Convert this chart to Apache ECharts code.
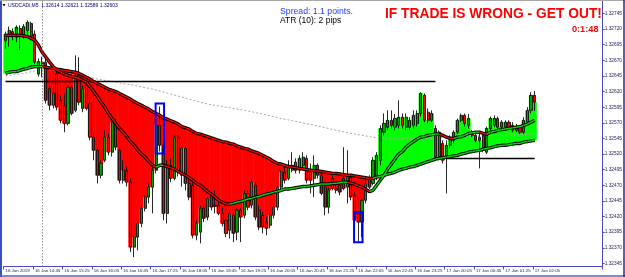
<!DOCTYPE html>
<html><head><meta charset="utf-8">
<script src="https://cdn.jsdelivr.net/npm/echarts@6/dist/echarts.min.js"></script>
<style>html,body{margin:0;padding:0;background:#fff}#c{width:625px;height:277px}</style>
</head><body><div id="c"></div>
<script>
// ---- tick labels ----
const xTickLabels = ["16 Jan 2019","16 Jan 14:45","16 Jan 15:25","16 Jan 16:05","16 Jan 16:45","16 Jan 17:25","16 Jan 18:05","16 Jan 18:45","16 Jan 19:25","16 Jan 20:05","16 Jan 20:45","16 Jan 21:25","16 Jan 22:05","16 Jan 22:45","16 Jan 23:25","17 Jan 00:05","17 Jan 00:45","17 Jan 01:25","17 Jan 02:05"];
const yTickValues = [1.32345,1.32370,1.32395,1.32420,1.32445,1.32470,1.32495,1.32520,1.32545,1.32570,1.32595,1.32620,1.32645,1.32670,1.32695,1.32720,1.32745];

// ---- candles (USDCAD M5) ----
const openP = [1.32702,1.32708,1.32716,1.32707,1.32721,1.32710,1.32718,1.32729,1.32712,1.32648,
1.32667,1.32667,1.32625,1.32598,1.32649,1.32606,1.32598,1.32569,1.32627,1.32590,
1.32646,1.32593,1.32630,1.32601,1.32547,1.32526,1.32486,1.32510,1.32547,1.32523,
1.32571,1.32526,1.32478,1.32494,1.32475,1.32371,1.32387,1.32409,1.32433,1.32451,
1.32467,1.32494,1.32566,1.32534,1.32425,1.32502,1.32481,1.32547,1.32486,1.32529,
1.32473,1.32470,1.32390,1.32395,1.32433,1.32419,1.32454,1.32438,1.32438,1.32425,
1.32414,1.32398,1.32422,1.32395,1.32430,1.32422,1.32457,1.32438,1.32470,1.32430,
1.32422,1.32411,1.32406,1.32422,1.32435,1.32467,1.32491,1.32481,1.32494,1.32507,
1.32494,1.32502,1.32513,1.32494,1.32481,1.32502,1.32486,1.32467,1.32435,1.32481,
1.32465,1.32470,1.32481,1.32467,1.32483,1.32454,1.32425,1.32411,1.32446,1.32481,
1.32473,1.32483,1.32510,1.32555,1.32563,1.32574,1.32563,1.32566,1.32579,1.32563,
1.32563,1.32566,1.32569,1.32585,1.32614,1.32587,1.32574,1.32561,1.32515,1.32537,
1.32515,1.32534,1.32542,1.32555,1.32574,1.32582,1.32566,1.32555,1.32550,1.32547,
1.32550,1.32523,1.32561,1.32566,1.32577,1.32563,1.32563,1.32571,1.32558,1.32558,
1.32563,1.32555,1.32571,1.32590,1.32614];
const closeP = [1.32712,1.32718,1.32708,1.32723,1.32710,1.32724,1.32731,1.32708,1.32667,1.32668,
1.32664,1.32606,1.32598,1.32617,1.32595,1.32574,1.32569,1.32627,1.32585,1.32646,
1.32603,1.32625,1.32593,1.32547,1.32526,1.32486,1.32505,1.32547,1.32523,1.32571,
1.32531,1.32478,1.32494,1.32475,1.32371,1.32387,1.32409,1.32433,1.32451,1.32467,
1.32494,1.32566,1.32534,1.32425,1.32502,1.32481,1.32547,1.32491,1.32529,1.32473,
1.32451,1.32390,1.32409,1.32433,1.32417,1.32449,1.32435,1.32436,1.32425,1.32409,
1.32393,1.32425,1.32393,1.32430,1.32419,1.32457,1.32435,1.32475,1.32419,1.32403,
1.32403,1.32401,1.32422,1.32435,1.32467,1.32491,1.32478,1.32502,1.32502,1.32494,
1.32513,1.32515,1.32478,1.32478,1.32502,1.32486,1.32457,1.32435,1.32462,1.32465,
1.32462,1.32459,1.32465,1.32486,1.32451,1.32414,1.32411,1.32446,1.32473,1.32467,
1.32510,1.32518,1.32561,1.32569,1.32574,1.32566,1.32577,1.32579,1.32566,1.32579,
1.32574,1.32582,1.32585,1.32617,1.32574,1.32574,1.32585,1.32515,1.32555,1.32510,
1.32534,1.32547,1.32555,1.32574,1.32582,1.32569,1.32577,1.32550,1.32542,1.32542,
1.32526,1.32561,1.32577,1.32577,1.32563,1.32571,1.32571,1.32563,1.32566,1.32563,
1.32555,1.32574,1.32590,1.32614,1.32603];
const highP = [1.32716,1.32724,1.32721,1.32726,1.32726,1.32728,1.32734,1.32732,1.32718,1.32673,
1.32676,1.32673,1.32630,1.32625,1.32654,1.32614,1.32617,1.32630,1.32630,1.32678,
1.32675,1.32630,1.32635,1.32606,1.32553,1.32531,1.32510,1.32558,1.32553,1.32574,
1.32577,1.32531,1.32510,1.32500,1.32481,1.32390,1.32414,1.32438,1.32454,1.32473,
1.32502,1.32577,1.32596,1.32542,1.32510,1.32513,1.32550,1.32550,1.32534,1.32534,
1.32481,1.32475,1.32414,1.32438,1.32441,1.32452,1.32459,1.32462,1.32446,1.32435,
1.32419,1.32430,1.32427,1.32433,1.32433,1.32462,1.32462,1.32481,1.32475,1.32438,
1.32427,1.32420,1.32427,1.32441,1.32470,1.32494,1.32502,1.32510,1.32523,1.32513,
1.32518,1.32523,1.32518,1.32505,1.32518,1.32505,1.32491,1.32470,1.32467,1.32486,
1.32470,1.32475,1.32531,1.32526,1.32486,1.32459,1.32428,1.32449,1.32478,1.32486,
1.32515,1.32523,1.32566,1.32585,1.32590,1.32590,1.32584,1.32606,1.32585,1.32585,
1.32579,1.32590,1.32590,1.32619,1.32617,1.32593,1.32590,1.32566,1.32558,1.32542,
1.32542,1.32550,1.32558,1.32577,1.32585,1.32585,1.32584,1.32558,1.32553,1.32555,
1.32553,1.32564,1.32580,1.32582,1.32580,1.32574,1.32574,1.32574,1.32571,1.32568,
1.32566,1.32579,1.32595,1.32619,1.32621];
const lowP = [1.32689,1.32692,1.32702,1.32699,1.32686,1.32705,1.32708,1.32702,1.32664,1.32644,
1.32643,1.32601,1.32590,1.32593,1.32590,1.32569,1.32555,1.32566,1.32582,1.32587,
1.32598,1.32587,1.32590,1.32542,1.32510,1.32473,1.32481,1.32507,1.32518,1.32516,
1.32526,1.32473,1.32473,1.32468,1.32363,1.32355,1.32366,1.32403,1.32428,1.32441,
1.32425,1.32489,1.32524,1.32414,1.32409,1.32475,1.32478,1.32484,1.32468,1.32462,
1.32446,1.32385,1.32382,1.32377,1.32411,1.32414,1.32430,1.32425,1.32422,1.32404,
1.32387,1.32385,1.32379,1.32382,1.32379,1.32417,1.32430,1.32433,1.32414,1.32398,
1.32393,1.32390,1.32401,1.32417,1.32430,1.32462,1.32473,1.32478,1.32491,1.32489,
1.32489,1.32497,1.32473,1.32457,1.32451,1.32481,1.32454,1.32422,1.32425,1.32462,
1.32457,1.32454,1.32462,1.32441,1.32446,1.32409,1.32380,1.32387,1.32441,1.32464,
1.32470,1.32478,1.32502,1.32550,1.32558,1.32561,1.32558,1.32561,1.32561,1.32558,
1.32558,1.32561,1.32564,1.32580,1.32571,1.32569,1.32571,1.32510,1.32510,1.32505,
1.32457,1.32529,1.32537,1.32552,1.32571,1.32564,1.32561,1.32547,1.32539,1.32497,
1.32523,1.32520,1.32558,1.32563,1.32560,1.32560,1.32561,1.32560,1.32555,1.32555,
1.32552,1.32552,1.32568,1.32585,1.32589];

// ---- moving averages ----
const slowMA = [1.32649,1.32651,1.32652,1.32652,1.32654,1.32656,1.32657,1.32659,1.32660,1.32660,
1.32660,1.32659,1.32658,1.32657,1.32656,1.32655,1.32654,1.32653,1.32652,1.32651,
1.32649,1.32646,1.32643,1.32640,1.32636,1.32633,1.32630,1.32627,1.32624,1.32622,
1.32620,1.32617,1.32614,1.32611,1.32608,1.32604,1.32601,1.32598,1.32595,1.32592,
1.32588,1.32585,1.32582,1.32578,1.32576,1.32573,1.32571,1.32568,1.32564,1.32562,
1.32560,1.32556,1.32553,1.32552,1.32550,1.32548,1.32546,1.32544,1.32542,1.32540,
1.32539,1.32537,1.32536,1.32533,1.32531,1.32529,1.32528,1.32525,1.32523,1.32521,
1.32518,1.32515,1.32512,1.32508,1.32505,1.32504,1.32502,1.32500,1.32499,1.32498,
1.32497,1.32496,1.32495,1.32494,1.32493,1.32493,1.32492,1.32491,1.32490,1.32489,
1.32489,1.32488,1.32487,1.32486,1.32486,1.32485,1.32484,1.32483,1.32482,1.32481,
1.32481,1.32483,1.32484,1.32486,1.32488,1.32489,1.32491,1.32494,1.32496,1.32497,
1.32499,1.32500,1.32502,1.32504,1.32506,1.32508,1.32510,1.32512,1.32513,1.32514,
1.32515,1.32516,1.32517,1.32518,1.32520,1.32521,1.32523,1.32524,1.32525,1.32526,
1.32528,1.32529,1.32530,1.32532,1.32533,1.32534,1.32534,1.32535,1.32536,1.32537,
1.32537,1.32539,1.32540,1.32541,1.32542];
const fastMA = [1.32710,1.32710,1.32710,1.32710,1.32710,1.32709,1.32708,1.32705,1.32702,1.32694,
1.32683,1.32675,1.32667,1.32660,1.32654,1.32651,1.32648,1.32646,1.32644,1.32643,
1.32641,1.32638,1.32635,1.32628,1.32620,1.32612,1.32603,1.32595,1.32585,1.32577,
1.32569,1.32561,1.32555,1.32548,1.32540,1.32534,1.32526,1.32520,1.32515,1.32508,
1.32502,1.32499,1.32502,1.32502,1.32500,1.32498,1.32496,1.32492,1.32489,1.32486,
1.32482,1.32478,1.32473,1.32470,1.32465,1.32460,1.32456,1.32451,1.32446,1.32443,
1.32440,1.32440,1.32441,1.32443,1.32444,1.32446,1.32448,1.32449,1.32451,1.32452,
1.32454,1.32456,1.32457,1.32459,1.32460,1.32462,1.32464,1.32464,1.32465,1.32466,
1.32467,1.32468,1.32468,1.32469,1.32470,1.32471,1.32472,1.32472,1.32472,1.32473,
1.32473,1.32474,1.32475,1.32475,1.32473,1.32472,1.32469,1.32467,1.32464,1.32460,
1.32462,1.32470,1.32478,1.32486,1.32496,1.32504,1.32512,1.32520,1.32524,1.32531,
1.32536,1.32540,1.32544,1.32547,1.32548,1.32550,1.32551,1.32552,1.32552,1.32550,
1.32547,1.32545,1.32545,1.32547,1.32548,1.32550,1.32553,1.32554,1.32555,1.32555,
1.32553,1.32552,1.32555,1.32556,1.32558,1.32559,1.32560,1.32561,1.32562,1.32563,
1.32564,1.32566,1.32568,1.32571,1.32574];
// long moving average, read at every 5th bar: [barIndex, price]
const longMA = [[0,1.32645],[5,1.32649],[10,1.32656],[15,1.32653],[20,1.32646],[25,1.32640],[30,1.32635],[35,1.32630],[40,1.32624],[45,1.32616],[50,1.32608],[55,1.32600],[60,1.32595],[65,1.32590],[70,1.32584],[75,1.32577],[80,1.32571],[85,1.32565],[90,1.32558],[95,1.32552],[100,1.32547],[105,1.32544],[110,1.32545],[115,1.32545],[120,1.32547],[125,1.32548],[130,1.32549],[135,1.32550],[140,1.32551],[144,1.32552]];

// ---- objects on the chart ----
const hLines = [[0,117,1.32637],[120,144,1.32514]];   // [fromBar, toBar, price]
const vLineBar = 10;
const boxes = [[42,1.32601,1.32521],[96,1.32427,1.32379]]; // [bar, top, bottom]

// ---- categories (M5 bars from 16 Jan 14:05, with empty shift area) ----
const N_CAT = 163;
const categories = [];
for (let i = 0; i < N_CAT; i++) {
  const m = 14*60 + 5 + 5*i;
  const day = m >= 1440 ? 17 : 16;
  const mm = m % 1440;
  const h = String(Math.floor(mm/60)).padStart(2,'0');
  const mi = String(mm%60).padStart(2,'0');
  categories.push(day + ' Jan ' + h + ':' + mi);
}
const nBars = closeP.length;

function slopeColors(arr) {
  const cols = []; let cur = '#ff0000';
  for (let i = 0; i < arr.length; i++) {
    if (i > 0) { if (arr[i] > arr[i-1]) cur = '#00e000'; else if (arr[i] < arr[i-1]) cur = '#ff0000'; }
    cols.push(cur);
  }
  return cols;
}
const slowCols = slopeColors(slowMA);
const fastCols = slopeColors(fastMA);

function maColorSeries(arr, cols, z) {
  return {
    type: 'custom', z: z, silent: true,
    data: arr.map((v, i) => [i, v]),
    encode: {x: 0, y: 1},
    renderItem: function (params, api) {
      const i = api.value(0);
      if (i === 0) return null;
      const p0 = api.coord([i-1, arr[i-1]]);
      const p1 = api.coord([i, arr[i]]);
      return {type: 'line', shape: {x1: p0[0], y1: p0[1], x2: p1[0], y2: p1[1]},
        style: {stroke: cols[i], lineWidth: 1.4}};
    }
  };
}

const chart = echarts.init(document.getElementById('c'), null, {renderer: 'canvas'});
const FONT = '"Liberation Sans", Arial, sans-serif';
const last = nBars - 1;

chart.setOption({
  animation: false,
  backgroundColor: '#ffffff',
  grid: {left: 3.66, right: 22, top: 1, bottom: 10.5, containLabel: false},
  xAxis: {
    type: 'category', data: categories, boundaryGap: true,
    axisLine: {show: true, lineStyle: {color: '#4848c8', width: 1}},
    axisTick: {show: true, length: 3, interval: (i) => i % 8 === 0 && i <= 144, lineStyle: {color: '#4848c8'}},
    axisLabel: {
      interval: (i) => i % 8 === 0 && i <= 144,
      formatter: (v, i) => xTickLabels[i / 8] || '',
      fontSize: 4.4, color: '#1c1c5a', align: 'left', margin: 2, fontFamily: FONT
    },
    splitLine: {show: false}
  },
  yAxis: {
    type: 'value', position: 'right', min: 1.3234, max: 1.32765, scale: true,
    axisLine: {show: true, lineStyle: {color: '#4848c8', width: 1}},
    axisTick: {show: true, length: 2, customValues: yTickValues, lineStyle: {color: '#4848c8'}},
    axisLabel: {customValues: yTickValues, formatter: (v) => v.toFixed(5), fontSize: 4.8, color: '#1c1c5a', margin: 2, fontFamily: FONT},
    splitLine: {show: false}
  },
  series: [
    // histogram fill between close and slow MA
    {
      type: 'custom', z: 1, silent: true,
      data: closeP.map((c, i) => [i, c, slowMA[i]]),
      encode: {x: 0, y: [1, 2]},
      renderItem: function (params, api) {
        const i = api.value(0), c = api.value(1), s = api.value(2);
        const p1 = api.coord([i, c]), p2 = api.coord([i, s]);
        const w = api.size([1, 0])[0];
        return {type: 'rect', shape: {x: p1[0] - w/2 - 0.3, y: Math.min(p1[1], p2[1]), width: w + 0.6, height: Math.abs(p1[1] - p2[1])},
          style: {fill: c >= s ? '#00ff00' : '#ff0000'}};
      }
    },
    // long MA, dotted grey, plus the chart objects
    {
      type: 'line', z: 2, silent: true, data: longMA, showSymbol: false, smooth: false,
      lineStyle: {color: '#a8a8a8', width: 1, type: [2, 2]},
      markLine: {
        silent: true, symbol: ['none', 'none'], animation: false,
        data: [
          {yAxis: closeP[last], lineStyle: {color: '#cccccc', type: 'solid', width: 1},
            label: {show: true, position: 'end', distance: 0.5, formatter: () => closeP[last].toFixed(5),
              backgroundColor: '#00005e', color: '#ffffff', fontSize: 4.8, padding: [1, 1.5, 0.5, 1.5], fontFamily: FONT}},
          {xAxis: vLineBar, lineStyle: {color: '#909090', type: [1.5, 1.5], width: 1}, label: {show: false}}
        ].concat(hLines.map(h => [
          {coord: [h[0], h[2]], lineStyle: {color: '#000000', type: 'solid', width: 1.3}, label: {show: false}},
          {coord: [h[1], h[2]]}
        ]))
      }
    },
    // candles
    {
      type: 'candlestick', z: 3, silent: true, barWidth: 2.6,
      data: openP.map((o, i) => [o, closeP[i], lowP[i], highP[i]]),
      itemStyle: {color: '#00a000', color0: '#ff0000', borderColor: '#111111', borderColor0: '#111111', borderWidth: 0.9}
    },
    // slow MA (black outline + coloured core)
    {type: 'line', z: 4, silent: true, data: slowMA, showSymbol: false, lineStyle: {color: '#000', width: 3.4}},
    maColorSeries(slowMA, slowCols, 5),
    // fast MA
    {type: 'line', z: 4, silent: true, data: fastMA, showSymbol: false, lineStyle: {color: '#000', width: 3.4}},
    maColorSeries(fastMA, fastCols, 5),
    // blue boxes
    {
      type: 'custom', z: 6, silent: true, data: boxes, encode: {x: 0, y: [1, 2]},
      renderItem: function (params, api) {
        const p1 = api.coord([api.value(0), api.value(1)]);
        const p2 = api.coord([api.value(0), api.value(2)]);
        const w = api.size([1, 0])[0] * 2.3;
        return {type: 'rect', shape: {x: p1[0] - w/2, y: p1[1], width: w, height: p2[1] - p1[1]},
          style: {fill: 'none', stroke: '#0000ff', lineWidth: 2}};
      }
    }
  ],
  graphic: [
    {type: 'rect', silent: true, z: 50, shape: {x: 0, y: 0, width: 2, height: 277}, style: {fill: '#3a4ec0'}},
    {type: 'line', silent: true, z: 50, shape: {x1: 0, y1: 0.5, x2: 625, y2: 0.5}, style: {stroke: '#a8a8a8', lineWidth: 1}},
    {type: 'line', silent: true, z: 50, shape: {x1: 0, y1: 276, x2: 625, y2: 276}, style: {stroke: '#5060d0', lineWidth: 1.5}},
    {type: 'line', silent: true, z: 50, shape: {x1: 624, y1: 0, x2: 624, y2: 277}, style: {stroke: '#2a2a90', lineWidth: 1.5}},
    {type: 'polygon', silent: true, z: 50, shape: {points: [[2.5, 4], [5.5, 4], [4, 6.5]]}, style: {fill: '#000000'}},
    {type: 'text', silent: true, z: 50, x: 8, y: 6,
      style: {text: 'USDCADi,M5  ' + [openP[last], highP[last], lowP[last], closeP[last]].map(v => v.toFixed(5)).join(' '),
        fill: '#00007f', font: '5px ' + FONT, verticalAlign: 'middle', textVerticalAlign: 'middle'}},
    {type: 'text', silent: true, z: 50, x: 280, y: 11.7,
      style: {text: 'Spread: 1.1 points.', fill: '#1a3cff', font: '8.7px ' + FONT, verticalAlign: 'middle', textVerticalAlign: 'middle'}},
    {type: 'text', silent: true, z: 50, x: 280, y: 21,
      style: {text: 'ATR (10): 2 pips', fill: '#000000', font: '8.5px ' + FONT, verticalAlign: 'middle', textVerticalAlign: 'middle'}},
    {type: 'text', silent: true, z: 50, x: 385, y: 14.4,
      style: {text: 'IF TRADE IS WRONG - GET OUT!', fill: '#ff0000', font: 'bold 13.8px ' + FONT, verticalAlign: 'middle', textVerticalAlign: 'middle'}},
    {type: 'text', silent: true, z: 50, x: 598.5, y: 29,
      style: {text: '0:1:48', fill: '#ff0000', font: 'bold 9.2px ' + FONT, align: 'right', textAlign: 'right', verticalAlign: 'middle', textVerticalAlign: 'middle'}}
  ]
});
</script>
</body></html>
